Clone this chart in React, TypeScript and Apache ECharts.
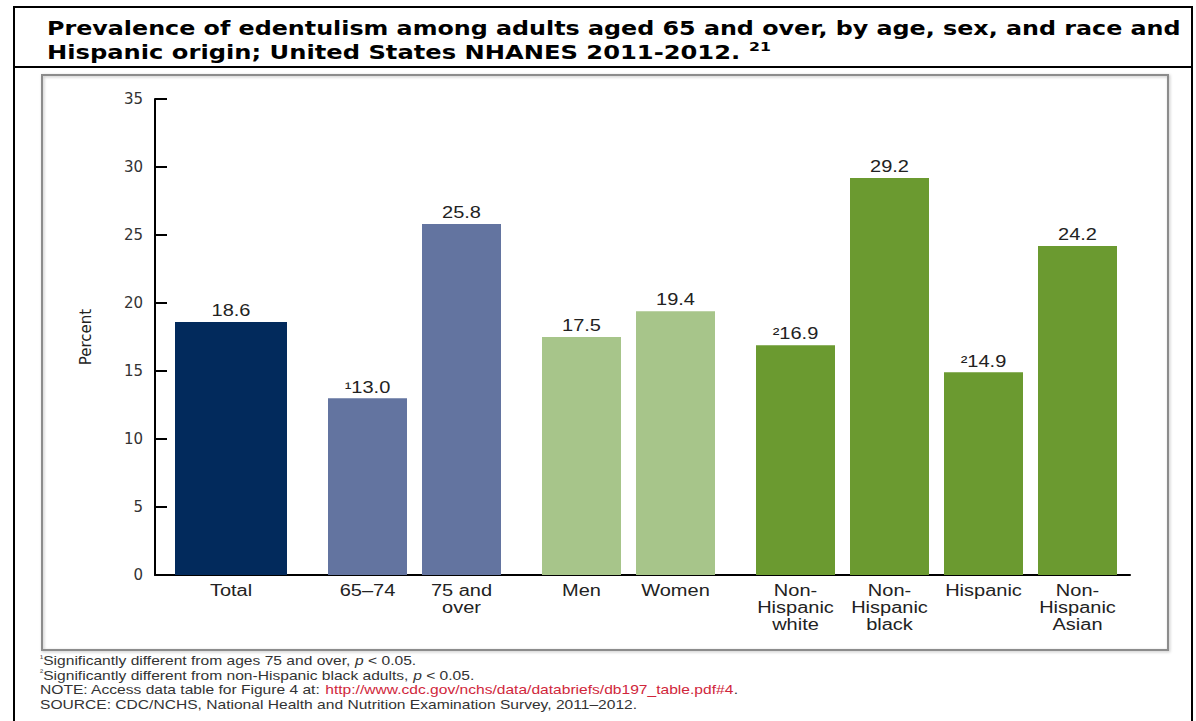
import React, { useEffect, useRef } from "react";
import * as echarts from "echarts";

const categories = [
  "Total",
  "65–74",
  "75 and\nover",
  "Men",
  "Women",
  "Non-\nHispanic\nwhite",
  "Non-\nHispanic\nblack",
  "Hispanic",
  "Non-\nHispanic\nAsian",
];
const values = [18.6, 13.0, 25.8, 17.5, 19.4, 16.9, 29.2, 14.9, 24.2];
const noteMarks = ["", "¹", "", "", "", "²", "", "²", ""];
const groupOf = [0, 1, 1, 2, 2, 3, 3, 3, 3];
const groupColors = ["#022a5c", "#6374a0", "#a7c58a", "#6b9a30"];
const yTicks = [0, 5, 10, 15, 20, 25, 30, 35];

const titleLine1 =
  "Prevalence of edentulism among adults aged 65 and over, by age, sex, and race and";
const titleLine2 = "Hispanic origin; United States NHANES 2011-2012. ";
const titleRef = "21";

const footnotes = [
  "{s|¹}Significantly different from ages 75 and over, {i|p} < 0.05.",
  "{s|²}Significantly different from non-Hispanic black adults, {i|p} < 0.05.",
  "NOTE: Access data table for Figure 4 at: {u|http://www.cdc.gov/nchs/data/databriefs/db197_table.pdf#4}.",
  "SOURCE: CDC/NCHS, National Health and Nutrition Examination Survey, 2011–2012.",
];

export default function App() {
  const ref = useRef<HTMLDivElement>(null);
  useEffect(() => {
    if (!ref.current) return;
    const chart = echarts.init(ref.current, null, { renderer: "svg" });

    // layout (pixel units along the x axis)
    const wideW = 112;
    const narrowW = 79;
    const gapIn = 15;
    const gapOut = 41;
    const startPad = 20;
    const widths = categories.map((_, i) => (i === 0 ? wideW : narrowW));
    const centers: number[] = [];
    let cursor = startPad;
    categories.forEach((_, i) => {
      if (i > 0) cursor += groupOf[i] === groupOf[i - 1] ? gapIn : gapOut;
      centers.push(cursor + widths[i] / 2);
      cursor += widths[i];
    });

    const font = "Liberation Sans, Arial, sans-serif";
    const stretch = 1.25;
    const titleFont = "bold 20px 'DejaVu Sans', Verdana, sans-serif";

    chart.setOption({
      animation: false,
      backgroundColor: "#ffffff",
      grid: { left: 155, right: 66, top: 99, bottom: 146 },
      xAxis: {
        type: "value",
        min: 0,
        max: 975,
        axisLine: { show: true, lineStyle: { color: "#000", width: 2 } },
        axisTick: { show: false },
        axisLabel: { show: false },
        splitLine: { show: false },
      },
      yAxis: {
        type: "value",
        min: yTicks[0],
        max: yTicks[yTicks.length - 1],
        interval: 5,
        name: "Percent",
        nameLocation: "middle",
        nameRotate: 90,
        nameGap: 62,
        nameTextStyle: { fontFamily: "'DejaVu Sans', sans-serif", fontSize: 15, color: "#222" },
        axisLine: { show: true, lineStyle: { color: "#000", width: 2 } },
        axisTick: { show: true, inside: true, length: 12, lineStyle: { color: "#000", width: 2 } },
        axisLabel: { fontFamily: "'DejaVu Sans', sans-serif", fontSize: 15, color: "#333", margin: 12 },
        splitLine: { show: false },
      },
      series: [
        {
          type: "custom",
          clip: false,
          data: values.map((v, i) => [centers[i], v, i]),
          renderItem: (params: any, api: any) => {
            const i = api.value(2);
            const top = api.coord([api.value(0), api.value(1)]);
            const base = api.coord([api.value(0), 0]);
            const w = api.size([widths[i], 0])[0];
            return {
              type: "group",
              children: [
                {
                  type: "rect",
                  shape: { x: top[0] - w / 2, y: top[1], width: w, height: base[1] - top[1] },
                  style: { fill: groupColors[groupOf[i]] },
                },
                {
                  type: "text",
                  x: top[0],
                  y: top[1] - 3,
                  scaleX: stretch,
                  style: {
                    text: noteMarks[i] + values[i].toFixed(1),
                    x: 0,
                    y: 0,
                    align: "center",
                    verticalAlign: "bottom",
                    fontFamily: font,
                    fontSize: 16,
                    fill: "#222",
                  },
                },
                {
                  type: "text",
                  x: top[0],
                  y: base[1] + 7,
                  scaleX: stretch,
                  style: {
                    text: categories[i],
                    x: 0,
                    y: 0,
                    align: "center",
                    verticalAlign: "top",
                    fontFamily: font,
                    fontSize: 16,
                    lineHeight: 17,
                    fill: "#222",
                  },
                },
              ],
            };
          },
        },
      ],
      graphic: [
        {
          type: "rect",
          shape: { x: 14, y: 7, width: 1178, height: 730 },
          style: { fill: "none", stroke: "#000", lineWidth: 2 },
          silent: true,
        },
        {
          type: "line",
          shape: { x1: 14, y1: 67, x2: 1192, y2: 67 },
          style: { stroke: "#000", lineWidth: 2 },
        },
        {
          type: "rect",
          shape: { x: 42, y: 75, width: 1126, height: 575 },
          style: {
            fill: "none",
            stroke: "#8c8c8c",
            lineWidth: 2,
            shadowBlur: 3,
            shadowColor: "rgba(0,0,0,0.25)",
            shadowOffsetX: 1,
            shadowOffsetY: 1,
          },
          z: -1,
        },
        {
          type: "text",
          x: 47,
          y: 18,
          scaleX: 1.19,
          style: {
            text: titleLine1,
            x: 0,
            y: 0,
            verticalAlign: "top",
            font: titleFont,
            fill: "#000",
          },
        },
        {
          type: "text",
          x: 47,
          y: 40,
          scaleX: 1.21,
          style: {
            text: titleLine2 + "{sup|" + titleRef + "}",
            x: 0,
            y: 0,
            verticalAlign: "top",
            font: titleFont,
            fill: "#000",
            rich: {
              sup: {
                font: "bold 13px 'DejaVu Sans', Verdana, sans-serif",
                fill: "#000",
                verticalAlign: "top",
                padding: [0, 0, 10, 0],
              },
            },
          },
        },
        ...footnotes.map((t, k) => ({
          type: "text",
          x: 40,
          y: 654 + k * 14.5,
          scaleX: 1.2,
          style: {
            text: t,
            x: 0,
            y: 0,
            verticalAlign: "top",
            fontFamily: font,
            fontSize: 13,
            fill: "#333",
            rich: {
              s: { fontFamily: font, fontSize: 8, fill: "#333", verticalAlign: "top", padding: [0, 0, 4, 0] },
              i: { fontFamily: font, fontSize: 13, fontStyle: "italic", fill: "#333" },
              u: { fontFamily: font, fontSize: 13, fill: "#d0263b" },
            },
          },
        })),
      ],
    });
    return () => chart.dispose();
  }, []);
  return (
    <div
      ref={ref}
      style={{ position: "fixed", left: 0, top: 0, width: 1196, height: 721 }}
    />
  );
}
